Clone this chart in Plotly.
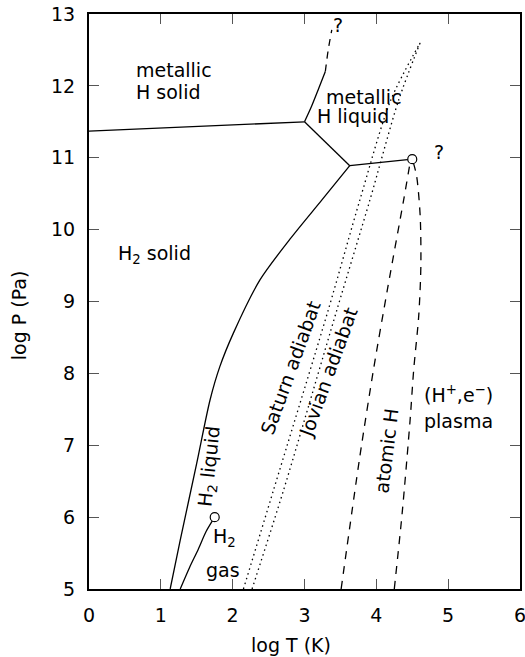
import plotly.graph_objects as go

# ---- data (log T [K], log P [Pa]) ----
met_solid_T = [0.0, 3.0]
met_solid_P = [11.37, 11.5]

met_melt_T = [3.0, 3.1, 3.2, 3.29]
met_melt_P = [11.5, 11.72, 11.97, 12.2]

met_melt_q_T = [3.29, 3.33, 3.38]
met_melt_q_P = [12.2, 12.5, 12.78]

trans_T = [3.0, 3.63]
trans_P = [11.5, 10.89]

h2_met_T = [3.63, 4.5]
h2_met_P = [10.89, 10.98]

h2_melt_T = [1.13, 1.27, 1.50, 1.685, 1.82, 2.01, 2.38, 2.8, 3.24, 3.63]
h2_melt_P = [5.0, 5.68, 6.75, 7.63, 8.09, 8.56, 9.30, 9.87, 10.41, 10.89]

h2_vap_T = [1.27, 1.40, 1.52, 1.63, 1.75]
h2_vap_P = [5.0, 5.3, 5.55, 5.8, 6.0]

saturn_T = [2.15, 2.57, 3.33, 3.77, 4.20, 4.61]
saturn_P = [5.0, 6.38, 8.88, 10.41, 11.8, 12.6]

jovian_T = [2.27, 2.71, 3.45, 3.91, 4.31, 4.61]
jovian_P = [5.0, 6.38, 8.88, 10.41, 11.8, 12.6]

atomic_T = [3.51, 3.77, 3.96, 4.16, 4.38, 4.47]
atomic_P = [5.0, 6.84, 8.05, 9.2, 10.41, 10.93]

plasma_T = [4.25, 4.36, 4.47, 4.52, 4.59, 4.62, 4.61, 4.56, 4.51]
plasma_P = [5.0, 6.06, 7.35, 8.05, 8.8, 9.5, 10.2, 10.75, 10.95]

crit_T = [1.75, 4.5]
crit_P = [6.0, 10.98]

x_ticks = [0, 1, 2, 3, 4, 5, 6]
y_ticks = [5, 6, 7, 8, 9, 10, 11, 12, 13]

FONT = "DejaVu Sans"
BLACK = "black"

fig = go.Figure()

def add_line(x, y, dash="solid", shape="linear", width=1.3):
    fig.add_trace(go.Scatter(x=x, y=y, mode="lines",
                             line=dict(color=BLACK, width=width, dash=dash, shape=shape,
                                       smoothing=0.8),
                             hoverinfo="skip", showlegend=False))

add_line(met_solid_T, met_solid_P)
add_line(met_melt_T, met_melt_P, shape="spline")
add_line(met_melt_q_T, met_melt_q_P, dash="7px,6px", shape="spline")
add_line(trans_T, trans_P)
add_line(h2_met_T, h2_met_P)
add_line(h2_melt_T, h2_melt_P, shape="spline")
add_line(h2_vap_T, h2_vap_P, shape="spline")
add_line(saturn_T, saturn_P, dash="1.5px,3.5px", shape="spline")
add_line(jovian_T, jovian_P, dash="1.5px,3.5px", shape="spline")
add_line(atomic_T, atomic_P, dash="8px,7px", shape="spline")
add_line(plasma_T, plasma_P, dash="8px,7px", shape="spline")

fig.add_trace(go.Scatter(x=crit_T, y=crit_P, mode="markers",
                         marker=dict(symbol="circle", size=9, color="white",
                                     line=dict(color=BLACK, width=1.2)),
                         hoverinfo="skip", showlegend=False))

def label(x, y, text, angle=0, xanchor="left", size=19):
    fig.add_annotation(x=x, y=y, text=text, showarrow=False, textangle=angle,
                       xanchor=xanchor, yanchor="middle",
                       font=dict(family=FONT, size=size, color=BLACK))

label(0.62, 12.22, "metallic")
label(0.62, 11.92, "H solid")
label(3.27, 11.85, "metallic")
label(3.14, 11.58, "H liquid")
label(0.38, 9.66, "H<sub>2</sub> solid")
label(1.68, 6.71, "H<sub>2</sub> liquid", angle=-84, xanchor="center")
label(1.89, 5.72, "H<sub>2</sub>", xanchor="center")
label(1.86, 5.27, "gas", xanchor="center")
label(2.80, 8.08, "Saturn adiabat", angle=-70, xanchor="center")
label(3.33, 8.02, "Jovian adiabat", angle=-70, xanchor="center")
label(4.14, 6.92, "atomic H", angle=-83, xanchor="center")
label(4.63, 7.71, "(H<sup>+</sup>,e<sup>−</sup>)")
label(4.64, 7.34, "plasma")
label(3.47, 12.85, "?", xanchor="center")
label(4.87, 11.08, "?", xanchor="center")

fig.add_annotation(xref="paper", yref="paper", x=0.469, y=-0.0974, text="log T (K)",
                   showarrow=False, xanchor="center", yanchor="middle",
                   font=dict(family=FONT, size=19, color=BLACK))
fig.add_annotation(xref="paper", yref="paper", x=-0.162, y=0.4765, text="log P (Pa)",
                   showarrow=False, textangle=-90, xanchor="center", yanchor="middle",
                   font=dict(family=FONT, size=19, color=BLACK))

axis_common = dict(showline=True, linecolor=BLACK, linewidth=2, mirror="allticks",
                   ticks="inside", ticklen=10, tickwidth=1, tickcolor="#555",
                   showgrid=False, zeroline=False, ticklabelstandoff=8,
                   automargin=False, ticklabeloverflow="allow",
                   tickfont=dict(family=FONT, size=19, color=BLACK))

fig.update_xaxes(range=[0, 6], tickvals=x_ticks, ticktext=[str(v) for v in x_ticks],
                 **axis_common)
fig.update_yaxes(range=[5, 13], tickvals=y_ticks, ticktext=[str(v) for v in y_ticks],
                 **axis_common)

fig.update_layout(width=525, height=657, plot_bgcolor="white", paper_bgcolor="white",
                  margin=dict(l=89, r=5, t=14, b=68, autoexpand=False), showlegend=False)

# remove the default 8px page margin so the 525x657 figure fills the window exactly
fig.write_html("out.html", config={"displayModeBar": False},
               post_script="document.body.style.margin='0';document.body.style.overflow='hidden';")
